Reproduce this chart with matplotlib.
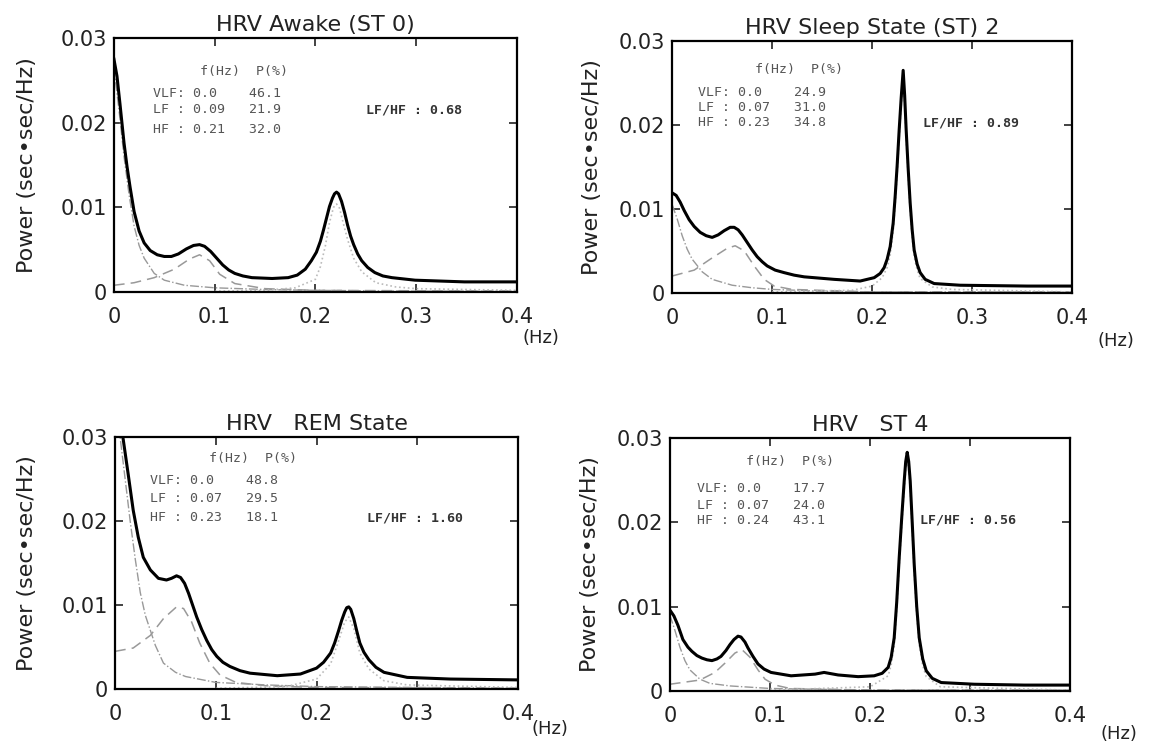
import matplotlib
matplotlib.use("Agg")
import matplotlib.pyplot as plt

# ---- data (frequency in Hz, power in sec*sec/Hz) ----
titles = ["HRV Awake (ST 0)", "HRV Sleep State (ST) 2", "HRV   REM State", "HRV   ST 4"]

# awake (ST 0)
awake_f = [0.0, 0.003, 0.006, 0.010, 0.013, 0.016, 0.020, 0.025, 0.030, 0.036, 0.043, 0.050,
           0.057, 0.064, 0.072, 0.079, 0.085, 0.090, 0.096, 0.102, 0.108, 0.114, 0.120, 0.128,
           0.137, 0.157, 0.173, 0.182, 0.190, 0.196, 0.201, 0.205, 0.208, 0.211, 0.214, 0.217,
           0.219, 0.221, 0.223, 0.226, 0.229, 0.232, 0.235, 0.238, 0.242, 0.246, 0.252, 0.259,
           0.267, 0.276, 0.299, 0.348, 0.400]
awake_total = [0.0275, 0.0255, 0.0222, 0.0176, 0.0148, 0.0124, 0.0095, 0.0072, 0.0058, 0.0049,
               0.0044, 0.0042, 0.0042, 0.0045, 0.0051, 0.0055, 0.0056, 0.0054, 0.0048, 0.0040,
               0.0032, 0.0026, 0.0022, 0.0019, 0.0017, 0.0016, 0.0017, 0.0020, 0.0027, 0.0037,
               0.0047, 0.0060, 0.0073, 0.0087, 0.0101, 0.0111, 0.0116, 0.0118, 0.0116, 0.0107,
               0.0094, 0.0079, 0.0066, 0.0056, 0.0045, 0.0037, 0.0029, 0.0023, 0.0019, 0.0017,
               0.0014, 0.0012, 0.0012]
awake_vlf_f = [0.0, 0.005, 0.01, 0.015, 0.02, 0.025, 0.03, 0.04, 0.05, 0.07, 0.1, 0.15, 0.2, 0.3, 0.4]
awake_vlf = [0.0265, 0.0215, 0.016, 0.0115, 0.0078, 0.0055, 0.004, 0.0022, 0.0014, 0.0008,
             0.0005, 0.0003, 0.0002, 0.0001, 0.0001]
awake_lf_f = [0.0, 0.02, 0.04, 0.06, 0.075, 0.085, 0.095, 0.105, 0.12, 0.15, 0.2, 0.4]
awake_lf = [0.0008, 0.0011, 0.0017, 0.0027, 0.0039, 0.0044, 0.0037, 0.0021, 0.0010, 0.0004,
            0.0002, 0.0001]
awake_hf_f = [0.1, 0.15, 0.18, 0.2, 0.205, 0.21, 0.214, 0.218, 0.221, 0.224, 0.228, 0.232,
              0.238, 0.246, 0.26, 0.28, 0.3, 0.4]
awake_hf = [0.0001, 0.0002, 0.0005, 0.0015, 0.0030, 0.0055, 0.0082, 0.0100, 0.0104, 0.0099,
            0.0080, 0.0062, 0.0040, 0.0024, 0.0011, 0.0006, 0.0004, 0.0002]

# sleep state 2
st2_f = [0.0, 0.004, 0.008, 0.012, 0.017, 0.022, 0.028, 0.034, 0.040, 0.046, 0.052, 0.058,
         0.062, 0.066, 0.070, 0.075, 0.080, 0.085, 0.090, 0.095, 0.103, 0.112, 0.122, 0.132,
         0.162, 0.188, 0.202, 0.208, 0.212, 0.215, 0.218, 0.221, 0.223, 0.225, 0.227, 0.229,
         0.231, 0.2325, 0.234, 0.236, 0.238, 0.240, 0.242, 0.245, 0.248, 0.253, 0.262, 0.288,
         0.355, 0.400]
st2_total = [0.0119, 0.0116, 0.0108, 0.0098, 0.0087, 0.0079, 0.0072, 0.0068, 0.0066, 0.0069,
             0.0074, 0.0078, 0.0078, 0.0075, 0.0069, 0.0060, 0.0051, 0.0043, 0.0037, 0.0032,
             0.0027, 0.0024, 0.0021, 0.0019, 0.0016, 0.0014, 0.0018, 0.0023, 0.0030, 0.0040,
             0.0055, 0.0083, 0.0115, 0.0152, 0.0194, 0.0232, 0.0265, 0.0235, 0.0194, 0.0148,
             0.0107, 0.0075, 0.0051, 0.0034, 0.0024, 0.0016, 0.0011, 0.0009, 0.0008, 0.0008]
st2_vlf_f = [0.0, 0.005, 0.01, 0.015, 0.02, 0.03, 0.04, 0.06, 0.08, 0.1, 0.15, 0.2, 0.4]
st2_vlf = [0.0105, 0.0088, 0.0068, 0.0052, 0.0040, 0.0025, 0.0016, 0.0009, 0.0006, 0.0004,
           0.0002, 0.0001, 0.0001]
st2_lf_f = [0.0, 0.022, 0.038, 0.055, 0.063, 0.072, 0.082, 0.092, 0.102, 0.12, 0.2, 0.4]
st2_lf = [0.0020, 0.0027, 0.0040, 0.0053, 0.0056, 0.0050, 0.0032, 0.0016, 0.0008, 0.0004,
          0.0001, 0.0001]
st2_hf_f = [0.1, 0.18, 0.2, 0.21, 0.215, 0.218, 0.221, 0.223, 0.225, 0.227, 0.229, 0.231,
            0.2325, 0.234, 0.236, 0.238, 0.240, 0.242, 0.245, 0.248, 0.26, 0.28, 0.4]
st2_hf = [0.0001, 0.0003, 0.0008, 0.0018, 0.0030, 0.0045, 0.0073, 0.0105, 0.0142, 0.0185,
          0.0223, 0.0255, 0.0226, 0.0185, 0.0139, 0.0098, 0.0066, 0.0043, 0.0027, 0.0017,
          0.0007, 0.0004, 0.0001]

# REM state
rem_f = [0.0, 0.005, 0.008, 0.013, 0.018, 0.023, 0.028, 0.035, 0.043, 0.051, 0.056, 0.061,
         0.065, 0.069, 0.073, 0.077, 0.081, 0.086, 0.091, 0.096, 0.101, 0.107, 0.114, 0.124,
         0.134, 0.161, 0.184, 0.200, 0.207, 0.214, 0.218, 0.222, 0.225, 0.228, 0.230, 0.232,
         0.234, 0.237, 0.240, 0.243, 0.247, 0.252, 0.259, 0.267, 0.290, 0.333, 0.400]
rem_total = [0.0340, 0.0315, 0.0298, 0.0256, 0.0213, 0.0181, 0.0157, 0.0142, 0.0132, 0.0130,
             0.0132, 0.0135, 0.0133, 0.0126, 0.0114, 0.0100, 0.0086, 0.0071, 0.0058, 0.0047,
             0.0039, 0.0032, 0.0027, 0.0022, 0.0019, 0.0016, 0.0018, 0.0025, 0.0032, 0.0043,
             0.0055, 0.0070, 0.0082, 0.0092, 0.0097, 0.0098, 0.0095, 0.0084, 0.0069, 0.0055,
             0.0044, 0.0035, 0.0026, 0.0020, 0.0014, 0.0012, 0.0011]
rem_vlf_f = [0.0, 0.005, 0.01, 0.015, 0.02, 0.025, 0.03, 0.035, 0.04, 0.048, 0.06, 0.07, 0.1,
             0.15, 0.2, 0.3, 0.4]
rem_vlf = [0.033, 0.030, 0.025, 0.020, 0.0155, 0.0115, 0.0088, 0.0070, 0.0052, 0.0031, 0.0020,
           0.0015, 0.0008, 0.0005, 0.0003, 0.0002, 0.0001]
rem_lf_f = [0.0, 0.018, 0.035, 0.048, 0.061, 0.068, 0.076, 0.084, 0.094, 0.104, 0.12, 0.15,
            0.2, 0.4]
rem_lf = [0.0045, 0.0049, 0.0064, 0.0084, 0.0098, 0.0096, 0.0080, 0.0055, 0.0031, 0.0017,
          0.0008, 0.0004, 0.0002, 0.0001]
rem_hf_f = [0.1, 0.17, 0.2, 0.214, 0.222, 0.228, 0.232, 0.237, 0.243, 0.252, 0.267, 0.29, 0.4]
rem_hf = [0.0001, 0.0003, 0.0012, 0.0030, 0.0058, 0.0080, 0.0086, 0.0072, 0.0043, 0.0024,
          0.0010, 0.0005, 0.0002]

# ST 4
st4_f = [0.0, 0.004, 0.008, 0.013, 0.018, 0.022, 0.027, 0.032, 0.037, 0.042, 0.047, 0.051,
         0.056, 0.060, 0.064, 0.068, 0.071, 0.075, 0.078, 0.083, 0.088, 0.094, 0.101, 0.121,
         0.145, 0.154, 0.168, 0.188, 0.204, 0.212, 0.218, 0.221, 0.224, 0.2265, 0.229, 0.2315,
         0.234, 0.2355, 0.237, 0.2385, 0.240, 0.242, 0.244, 0.2465, 0.249, 0.2525, 0.256,
         0.262, 0.271, 0.304, 0.354, 0.400]
st4_total = [0.0096, 0.0089, 0.0078, 0.0061, 0.0052, 0.0047, 0.0042, 0.0039, 0.0037, 0.0036,
             0.0038, 0.0041, 0.0048, 0.0055, 0.0061, 0.0065, 0.0064, 0.0058, 0.0051, 0.0041,
             0.0032, 0.0026, 0.0022, 0.0018, 0.0020, 0.0022, 0.0019, 0.0017, 0.0018, 0.0021,
             0.0028, 0.0040, 0.0063, 0.0105, 0.0158, 0.0205, 0.0249, 0.0272, 0.0283, 0.0272,
             0.0249, 0.0200, 0.0150, 0.0100, 0.0063, 0.0038, 0.0024, 0.0015, 0.0010, 0.0008,
             0.0007, 0.0007]
st4_vlf_f = [0.0, 0.005, 0.01, 0.015, 0.02, 0.03, 0.04, 0.06, 0.1, 0.2, 0.4]
st4_vlf = [0.0090, 0.0072, 0.0052, 0.0036, 0.0025, 0.0014, 0.0009, 0.0006, 0.0003, 0.0001, 0.0001]
st4_lf_f = [0.0, 0.03, 0.045, 0.055, 0.065, 0.072, 0.08, 0.088, 0.095, 0.105, 0.12, 0.2, 0.4]
st4_lf = [0.0008, 0.0013, 0.0022, 0.0033, 0.0045, 0.0049, 0.0040, 0.0025, 0.0014, 0.0007,
          0.0003, 0.0001, 0.0001]
st4_hf_f = [0.1, 0.2, 0.218, 0.221, 0.224, 0.2265, 0.229, 0.2315, 0.234, 0.2355, 0.237,
            0.2385, 0.24, 0.242, 0.244, 0.2465, 0.249, 0.2525, 0.256, 0.27, 0.4]
st4_hf = [0.0001, 0.0005, 0.0018, 0.0031, 0.0053, 0.0096, 0.0148, 0.0196, 0.0240, 0.0263,
          0.0275, 0.0263, 0.0240, 0.0191, 0.0140, 0.0091, 0.0055, 0.0030, 0.0017, 0.0005, 0.0001]

# printed tables: band, peak frequency, percent power
awake_table = [("VLF:", "0.0", "46.1"), ("LF :", "0.09", "21.9"), ("HF :", "0.21", "32.0")]
st2_table = [("VLF:", "0.0", "24.9"), ("LF :", "0.07", "31.0"), ("HF :", "0.23", "34.8")]
rem_table = [("VLF:", "0.0", "48.8"), ("LF :", "0.07", "29.5"), ("HF :", "0.23", "18.1")]
st4_table = [("VLF:", "0.0", "17.7"), ("LF :", "0.07", "24.0"), ("HF :", "0.24", "43.1")]
lf_hf = ["0.68", "0.89", "1.60", "0.56"]

x_ticks = [0, 0.1, 0.2, 0.3, 0.4]
x_labels = ["0", "0.1", "0.2", "0.3", "0.4"]
y_ticks = [0, 0.01, 0.02, 0.03]
y_labels = ["0", "0.01", "0.02", "0.03"]

panels = [
    (awake_f, awake_total, awake_vlf_f, awake_vlf, awake_lf_f, awake_lf, awake_hf_f, awake_hf, awake_table),
    (st2_f, st2_total, st2_vlf_f, st2_vlf, st2_lf_f, st2_lf, st2_hf_f, st2_hf, st2_table),
    (rem_f, rem_total, rem_vlf_f, rem_vlf, rem_lf_f, rem_lf, rem_hf_f, rem_hf, rem_table),
    (st4_f, st4_total, st4_vlf_f, st4_vlf, st4_lf_f, st4_lf, st4_hf_f, st4_hf, st4_table),
]

# axes rectangles (figure fractions) and text anchor positions (axes fractions)
rects = [
    [0.099, 0.608, 0.350, 0.341],
    [0.584, 0.607, 0.3475, 0.338],
    [0.100, 0.075, 0.350, 0.338],
    [0.582, 0.0725, 0.348, 0.3396],
]
header_pos = [(0.213, 0.868), (0.206, 0.887), (0.232, 0.914), (0.189, 0.907)]
row_x = [0.096, 0.064, 0.087, 0.068]
row_y = [(0.783, 0.717, 0.638), (0.795, 0.735, 0.675), (0.828, 0.756, 0.681), (0.801, 0.735, 0.675)]
ratio_pos = [(0.626, 0.717), (0.627, 0.675), (0.625, 0.681), (0.625, 0.675)]
ylabel_x = [-0.19, -0.175, -0.195, -0.175]
hz_pos = [(1.06, -0.18), (1.11, -0.19), (1.08, -0.16), (1.12, -0.17)]

fig = plt.figure(figsize=(11.51, 7.45), dpi=100)

for i, (f, tot, vf, vp, lf_f, lp, hf_f, hp, table) in enumerate(panels):
    ax = fig.add_axes(rects[i])
    ax.plot(vf, vp, color="#999999", lw=1.0, ls="-.")
    ax.plot(lf_f, lp, color="#999999", lw=1.1, ls=(0, (7, 4)))
    ax.plot(hf_f, hp, color="#bbbbbb", lw=1.2, ls=":")
    ax.plot(f, tot, color="black", lw=2.2)

    ax.set_xlim(0, 0.4)
    ax.set_ylim(0, 0.03)
    ax.set_xticks(x_ticks)
    ax.set_xticklabels(x_labels)
    ax.set_yticks(y_ticks)
    ax.set_yticklabels(y_labels)
    ax.tick_params(direction="in", top=True, right=True, length=6, width=1.2,
                   labelsize=15, colors="#222222")
    ax.tick_params(axis="x", pad=11)
    ax.tick_params(axis="y", pad=5)
    for sp in ax.spines.values():
        sp.set_linewidth(1.6)

    ax.set_title(titles[i], fontsize=16, pad=5, color="#222222")
    ax.set_ylabel("Power (sec\u2022sec/Hz)", fontsize=16, color="#222222")
    ax.yaxis.set_label_coords(ylabel_x[i], 0.5)
    ax.text(hz_pos[i][0], hz_pos[i][1], "(Hz)", transform=ax.transAxes, fontsize=13,
            ha="center", va="center", color="#222222")

    ax.text(header_pos[i][0], header_pos[i][1], "f(Hz)  P(%)", transform=ax.transAxes,
            family="DejaVu Sans Mono", fontsize=9.5, color="#555555", va="center")
    for (band, freq, pct), yy in zip(table, row_y[i]):
        ax.text(row_x[i], yy, f"{band} {freq:<5}  {pct}", transform=ax.transAxes,
                family="DejaVu Sans Mono", fontsize=9.5, color="#555555", va="center")
    ax.text(ratio_pos[i][0], ratio_pos[i][1], f"LF/HF : {lf_hf[i]}", transform=ax.transAxes,
            family="DejaVu Sans Mono", fontsize=9.5, fontweight="bold", color="#333333",
            va="center")

fig.savefig("out.png", dpi=100)
plt.close(fig)
